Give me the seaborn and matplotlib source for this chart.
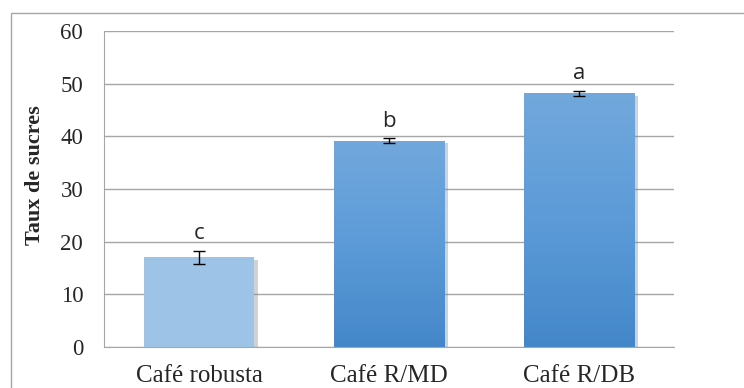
import numpy as np
import pandas as pd
import matplotlib
matplotlib.use('Agg')
import matplotlib.pyplot as plt
import matplotlib.patheffects as pe
from matplotlib.patches import Rectangle
import seaborn as sns

# Données
categories = ['Café robusta', 'Café R/MD', 'Café R/DB']
taux = [17.0, 39.2, 48.2]
erreurs = [1.3, 0.4, 0.45]
lettres = ['c', 'b', 'a']

df = pd.DataFrame({'cafe': categories, 'taux': taux})

sns.set_style('white')
plt.rcParams['font.family'] = ['Liberation Serif', 'DejaVu Serif']

fig = plt.figure(figsize=(7.44, 3.88), dpi=100)
ax = fig.add_axes([0.1398, 0.1057, 0.7662, 0.8143])

# cadre extérieur du graphique
fig.patches.append(Rectangle((11 / 744, -0.2), 1.2, 1.2 - 13 / 388,
                             transform=fig.transFigure, fill=False,
                             edgecolor='#A6A6A6', linewidth=1.0, zorder=0))

palette = ['#9DC3E6', '#5B9BD5', '#5B9BD5']
sns.barplot(data=df, x='cafe', y='taux', hue='cafe', palette=palette,
            saturation=1, width=0.58, errorbar=None, legend=False, ax=ax,
            zorder=2, linewidth=0)

# ombre et dégradé des barres
grad = np.linspace(0, 1, 256).reshape(-1, 1)
cmap = matplotlib.colors.LinearSegmentedColormap.from_list(
    'bleu', ['#4487C9', '#5C9BD8', '#72A8DC'])
for i, bar in enumerate(ax.patches):
    bar.set_path_effects([pe.SimplePatchShadow(offset=(3, -2), shadow_rgbFace='#808080', alpha=0.35),
                          pe.Normal()])
    if i > 0:
        x0, y0 = bar.get_x(), bar.get_y()
        w, h = bar.get_width(), bar.get_height()
        im = ax.imshow(grad, cmap=cmap, aspect='auto', origin='lower',
                       extent=(x0, x0 + w, y0, y0 + h), zorder=2.5)
        im.set_clip_path(bar)

ax.errorbar(x=np.arange(len(categories)), y=taux, yerr=erreurs, fmt='none',
            ecolor='black', elinewidth=1.0, capsize=4.3, capthick=1.0, zorder=4)

for i, (v, e, l) in enumerate(zip(taux, erreurs, lettres)):
    ax.annotate(l, (i, v + e), xytext=(0, 5), textcoords='offset points',
                ha='center', va='bottom', fontsize=16,
                family=['Open Sans', 'DejaVu Sans'])

ax.set_ylim(0, 60)
ax.set_xlim(-0.5, 2.5)
ax.set_yticks(range(0, 61, 10))
ax.yaxis.grid(True, color='#A6A6A6', linewidth=1.0, zorder=0)
ax.set_axisbelow(True)
ax.tick_params(axis='y', length=0, labelsize=16.5, pad=15)
ax.tick_params(axis='x', length=0, labelsize=18, pad=13)
ax.set_xlabel('')
ax.set_ylabel('Taux de sucres', fontsize=16, fontweight='bold')
ax.yaxis.set_label_coords(-0.104, 0.543)

for s in ['top', 'right']:
    ax.spines[s].set_visible(False)
ax.spines['left'].set_color('#A6A6A6')
ax.spines['bottom'].set_color('#A6A6A6')

fig.savefig('out.png', dpi=100)
